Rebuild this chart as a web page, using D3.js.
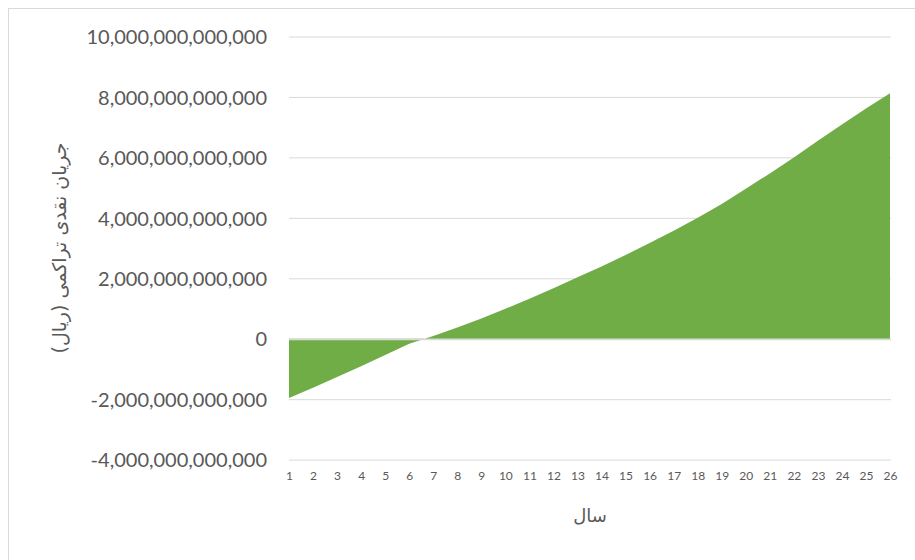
<!DOCTYPE html>
<html>
<head>
<meta charset="utf-8">
<script src="https://cdn.jsdelivr.net/npm/d3@7"></script>
<style>
  html, body { margin: 0; padding: 0; background: #fff; }
  svg { display: block; }
</style>
</head>
<body>
<svg id="chart" width="915" height="560"></svg>
<script>
// Project years
const years = [1, 2, 3, 4, 5, 6, 7, 8, 9, 10, 11, 12, 13, 14, 15, 16, 17, 18, 19, 20, 21, 22, 23, 24, 25, 26];

// Cumulative cash flow per year (rial)
const cumulativeCashFlow = [
  -1960000000000, -1620000000000, -1270000000000, -910000000000, -540000000000,
  -170000000000, 90000000000, 370000000000, 670000000000, 990000000000,
  1320000000000, 1670000000000, 2030000000000, 2390000000000, 2770000000000,
  3170000000000, 3570000000000, 4000000000000, 4460000000000, 4960000000000,
  5470000000000, 6000000000000, 6550000000000, 7090000000000, 7620000000000,
  8120000000000
];

// Value axis ticks
const yTicks = [-4000000000000, -2000000000000, 0, 2000000000000, 4000000000000,
                6000000000000, 8000000000000, 10000000000000];

const xTitle = "سال";
const yTitle = "جریان نقدی تراکمی (ریال)";

const svg = d3.select("#chart");

// Outer chart frame
svg.append("rect")
  .attr("x", 8.5).attr("y", 8.5)
  .attr("width", 940).attr("height", 600)
  .attr("fill", "#fff")
  .attr("stroke", "#d9d9d9")
  .attr("stroke-width", 1);

const x = d3.scaleLinear().domain([1, 26]).range([289, 890]);
const y = d3.scaleLinear().domain([-4000000000000, 10000000000000]).range([459.6, 36.5]);

// Thousands separators with a plain hyphen for negatives
const fmtBase = d3.format(",.0f");
const fmt = d => fmtBase(d).replace("\u2212", "-");

// Horizontal gridlines
const yAxis = d3.axisLeft(y)
  .tickValues(yTicks)
  .tickSize(-(x.range()[1] - x.range()[0] + 1))
  .tickPadding(22)
  .tickFormat(fmt);

const gy = svg.append("g")
  .attr("transform", `translate(${x.range()[0]},0)`)
  .call(yAxis);
gy.select(".domain").remove();
gy.selectAll(".tick line").attr("stroke", "#d9d9d9").attr("stroke-width", 1);
gy.selectAll(".tick text")
  .attr("fill", "#595959")
  .style("font-family", "Lato, 'Open Sans', sans-serif")
  .style("font-size", "20px")
  .attr("dy", "0.36em");

// Cumulative cash flow area
const series = years.map((yr, i) => ({ year: yr, value: cumulativeCashFlow[i] }));
const area = d3.area()
  .x(d => x(d.year))
  .y0(y(0))
  .y1(d => y(d.value));

svg.append("path")
  .datum(series)
  .attr("d", area)
  .attr("fill", "#70ad47");

// Zero line on top of the area
svg.append("line")
  .attr("x1", x.range()[0]).attr("x2", x.range()[1] + 1)
  .attr("y1", Math.round(y(0)) + 0.5).attr("y2", Math.round(y(0)) + 0.5)
  .attr("stroke", "#d9d9d9").attr("stroke-width", 1.5);

// Year labels
const xAxis = d3.axisBottom(x)
  .tickValues(years)
  .tickSize(0)
  .tickPadding(0)
  .tickFormat(d3.format("d"));

const gx = svg.append("g")
  .attr("transform", `translate(0,${y(-4000000000000) + 10})`)
  .call(xAxis);
gx.select(".domain").remove();
gx.selectAll(".tick text")
  .attr("fill", "#595959")
  .style("font-family", "Lato, 'Open Sans', sans-serif")
  .style("font-size", "12px")
  .attr("dy", "0.9em");

// Axis titles
svg.append("text")
  .attr("x", 590).attr("y", 522)
  .attr("text-anchor", "middle")
  .attr("fill", "#595959")
  .style("font-family", "'DejaVu Sans', sans-serif")
  .style("font-size", "18px")
  .attr("direction", "rtl")
  .text(xTitle);

svg.append("text")
  .attr("transform", "translate(66,248) rotate(-90)")
  .attr("text-anchor", "middle")
  .attr("fill", "#595959")
  .style("font-family", "'DejaVu Sans', sans-serif")
  .style("font-size", "19px")
  .attr("direction", "rtl")
  .text(yTitle);
</script>
</body>
</html>
